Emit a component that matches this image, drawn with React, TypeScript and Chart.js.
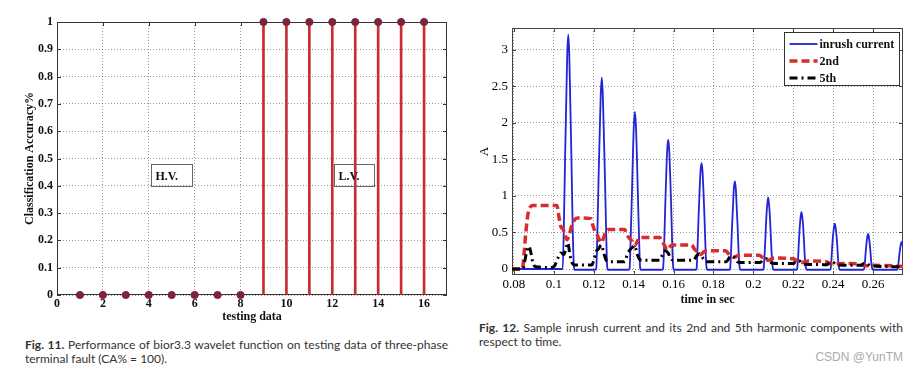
import { useEffect, useRef } from "react";
import { Chart, registerables } from "chart.js";

Chart.register(...registerables);

// ---------------- Fig. 11 data ----------------
const testingData = [1, 2, 3, 4, 5, 6, 7, 8, 9, 10, 11, 12, 13, 14, 15, 16];
const classificationAccuracy = [0, 0, 0, 0, 0, 0, 0, 0, 1, 1, 1, 1, 1, 1, 1, 1];
const fig11XTicks = [0, 2, 4, 6, 8, 10, 12, 14, 16];
const fig11YTicks = [0, 0.1, 0.2, 0.3, 0.4, 0.5, 0.6, 0.7, 0.8, 0.9, 1];
const fig11RegionLabels = ["H.V.", "L.V."];

// ---------------- Fig. 12 data ----------------
const timeTicks = [0.08, 0.1, 0.12, 0.14, 0.16, 0.18, 0.2, 0.22, 0.24, 0.26];
const ampTicks = [0, 0.5, 1, 1.5, 2, 2.5, 3];
const seriesNames = ["inrush current", "2nd", "5th"];

const inrushCurrent: [number, number][] = [
  [0.079, 0], [0.1044, 0],
  [0.105, 0.6], [0.1056, 1.5], [0.1062, 2.3], [0.1067, 2.95], [0.1072, 3.21], [0.1077, 2.95], [0.1082, 2.3], [0.1088, 1.5], [0.1094, 0.6], [0.11, 0.05], [0.1104, -0.01],
  [0.1208, -0.01], [0.1212, 0],
  [0.1218, 0.5], [0.1224, 1.25], [0.123, 1.9], [0.1235, 2.4], [0.124, 2.62], [0.1245, 2.4], [0.125, 1.9], [0.1256, 1.25], [0.1262, 0.5], [0.1267, 0.04], [0.1271, -0.01],
  [0.1375, -0.01], [0.1379, 0],
  [0.1385, 0.42], [0.1391, 1.02], [0.1396, 1.55], [0.1401, 1.98], [0.1406, 2.15], [0.1411, 1.98], [0.1416, 1.55], [0.1421, 1.02], [0.1427, 0.42], [0.1432, 0.03], [0.1436, -0.01],
  [0.1543, -0.01], [0.1547, 0],
  [0.1553, 0.35], [0.1558, 0.85], [0.1563, 1.28], [0.1568, 1.63], [0.1573, 1.77], [0.1578, 1.63], [0.1583, 1.28], [0.1588, 0.85], [0.1593, 0.35], [0.1598, 0.03], [0.1602, -0.01],
  [0.1711, -0.01], [0.1715, 0],
  [0.172, 0.28], [0.1725, 0.7], [0.173, 1.05], [0.1735, 1.34], [0.174, 1.45], [0.1745, 1.34], [0.175, 1.05], [0.1755, 0.7], [0.176, 0.28], [0.1765, 0.02], [0.1769, -0.01],
  [0.1879, -0.01], [0.1883, 0],
  [0.1888, 0.23], [0.1893, 0.58], [0.1898, 0.87], [0.1902, 1.1], [0.1907, 1.2], [0.1912, 1.1], [0.1916, 0.87], [0.1921, 0.58], [0.1926, 0.23], [0.1931, 0.02], [0.1935, -0.01],
  [0.2047, -0.01], [0.2051, 0],
  [0.2056, 0.19], [0.2061, 0.47], [0.2065, 0.71], [0.207, 0.9], [0.2074, 0.98], [0.2078, 0.9], [0.2083, 0.71], [0.2087, 0.47], [0.2092, 0.19], [0.2097, 0.02], [0.2101, -0.01],
  [0.2215, -0.01], [0.2219, 0],
  [0.2224, 0.15], [0.2228, 0.37], [0.2232, 0.56], [0.2237, 0.72], [0.2241, 0.78], [0.2245, 0.72], [0.225, 0.56], [0.2254, 0.37], [0.2258, 0.15], [0.2263, 0.02], [0.2267, -0.01],
  [0.2383, -0.01], [0.2387, 0],
  [0.2391, 0.12], [0.2395, 0.3], [0.2399, 0.45], [0.2404, 0.57], [0.2408, 0.62], [0.2412, 0.57], [0.2417, 0.45], [0.2421, 0.3], [0.2425, 0.12], [0.2429, 0.02], [0.2433, -0.01],
  [0.2551, -0.01], [0.2555, 0],
  [0.2559, 0.09], [0.2563, 0.23], [0.2567, 0.35], [0.2571, 0.44], [0.2575, 0.48], [0.2579, 0.44], [0.2583, 0.35], [0.2587, 0.23], [0.2591, 0.09], [0.2595, 0.01], [0.2599, -0.01],
  [0.2719, -0.01], [0.2723, 0],
  [0.2727, 0.07], [0.2731, 0.18], [0.2735, 0.27], [0.2739, 0.34], [0.2743, 0.37], [0.2747, 0.34], [0.2751, 0.27],
];

const secondHarmonic: [number, number][] = [
  [0.079, 0], [0.0842, 0], [0.085, 0.2], [0.086, 0.52], [0.087, 0.75], [0.0882, 0.85], [0.0895, 0.87],
  [0.1015, 0.87], [0.1025, 0.72], [0.1035, 0.58], [0.1045, 0.55], [0.1055, 0.48], [0.1065, 0.4], [0.1075, 0.45], [0.109, 0.6], [0.1105, 0.68], [0.112, 0.7],
  [0.1185, 0.69], [0.1195, 0.6], [0.1205, 0.52], [0.1215, 0.48], [0.1228, 0.4], [0.1238, 0.36], [0.1248, 0.42], [0.1262, 0.52], [0.1275, 0.54],
  [0.1355, 0.54], [0.1365, 0.48], [0.1378, 0.42], [0.1392, 0.38], [0.1405, 0.32], [0.1415, 0.36], [0.143, 0.43],
  [0.153, 0.43], [0.1542, 0.38], [0.1555, 0.32], [0.1568, 0.26], [0.158, 0.3], [0.1595, 0.33],
  [0.169, 0.33], [0.1703, 0.28], [0.1718, 0.24], [0.1735, 0.2], [0.175, 0.23], [0.1765, 0.25],
  [0.186, 0.25], [0.1875, 0.21], [0.1892, 0.17], [0.1905, 0.16], [0.1918, 0.18], [0.1935, 0.19],
  [0.203, 0.19], [0.2045, 0.16], [0.206, 0.13], [0.2075, 0.12], [0.209, 0.14], [0.2105, 0.15],
  [0.22, 0.14], [0.2215, 0.12], [0.223, 0.1], [0.2245, 0.09], [0.226, 0.1], [0.2275, 0.11],
  [0.2365, 0.1], [0.238, 0.08], [0.2395, 0.07], [0.241, 0.065], [0.2425, 0.07], [0.2445, 0.075],
  [0.253, 0.07], [0.2545, 0.055], [0.2565, 0.045], [0.258, 0.045], [0.26, 0.05],
  [0.27, 0.045], [0.275, 0.035],
];

const fifthHarmonic: [number, number][] = [
  [0.079, 0], [0.0845, 0], [0.0855, 0.12], [0.0865, 0.26], [0.0875, 0.31], [0.0885, 0.22], [0.0895, 0.08], [0.091, 0.03],
  [0.099, 0.02], [0.1005, 0.05], [0.102, 0.15], [0.1035, 0.22], [0.105, 0.2], [0.1062, 0.3], [0.107, 0.36], [0.108, 0.2], [0.1092, 0.08], [0.1105, 0.055],
  [0.119, 0.055], [0.12, 0.12], [0.1212, 0.24], [0.1225, 0.28], [0.1238, 0.33], [0.125, 0.22], [0.1262, 0.12], [0.1275, 0.1],
  [0.1355, 0.1], [0.1368, 0.2], [0.138, 0.26], [0.1395, 0.3], [0.1405, 0.32], [0.1418, 0.2], [0.143, 0.13], [0.1445, 0.12],
  [0.153, 0.12], [0.1545, 0.2], [0.156, 0.25], [0.1572, 0.22], [0.1585, 0.15], [0.1598, 0.12],
  [0.17, 0.12], [0.1715, 0.18], [0.173, 0.21], [0.1742, 0.17], [0.1755, 0.12], [0.177, 0.1],
  [0.1865, 0.1], [0.188, 0.16], [0.1895, 0.18], [0.1908, 0.15], [0.192, 0.1], [0.1935, 0.09],
  [0.2035, 0.09], [0.205, 0.13], [0.2065, 0.14], [0.208, 0.11], [0.2095, 0.08],
  [0.22, 0.075], [0.2215, 0.11], [0.223, 0.11], [0.2245, 0.08], [0.226, 0.065],
  [0.237, 0.06], [0.2385, 0.09], [0.24, 0.09], [0.2415, 0.06], [0.243, 0.055],
  [0.254, 0.05], [0.2555, 0.075], [0.257, 0.07], [0.2585, 0.045], [0.26, 0.04],
  [0.275, 0.03],
];

// ---------------- helpers & plugins ----------------
const SERIF = "'Liberation Serif', 'Times New Roman', serif";
const fmt = (v: number) => String(parseFloat(Number(v).toFixed(3)));

const axesBox = {
  id: "axesBox",
  beforeDatasetsDraw(chart: any, _a: any, opts: any) {
    const { ctx, chartArea } = chart;
    const { left, right, top, bottom } = chartArea;
    const xs = chart.scales.x;
    const ys = chart.scales.y;
    const tl = opts.tickLength ?? 4;
    ctx.save();
    ctx.strokeStyle = opts.color || "#333";
    ctx.lineWidth = 1;
    ctx.setLineDash([]);
    ctx.strokeRect(Math.round(left) + 0.5, Math.round(top) + 0.5, Math.round(right - left) - 1, Math.round(bottom - top) - 1);
    ctx.beginPath();
    for (const t of xs.ticks) {
      const x = Math.round(xs.getPixelForValue(t.value)) + 0.5;
      ctx.moveTo(x, bottom);
      ctx.lineTo(x, bottom - tl);
      ctx.moveTo(x, top);
      ctx.lineTo(x, top + tl);
    }
    for (const t of ys.ticks) {
      const y = Math.round(ys.getPixelForValue(t.value)) + 0.5;
      ctx.moveTo(left, y);
      ctx.lineTo(left + tl, y);
      ctx.moveTo(right, y);
      ctx.lineTo(right - tl, y);
    }
    ctx.stroke();
    ctx.restore();
  },
};

const regionBoxes = {
  id: "regionBoxes",
  afterDatasetsDraw(chart: any, _a: any, opts: any) {
    const { ctx } = chart;
    const xs = chart.scales.x;
    const ys = chart.scales.y;
    ctx.save();
    for (const b of opts.items || []) {
      const x0 = Math.round(xs.getPixelForValue(b.x0)) + 0.5;
      const x1 = Math.round(xs.getPixelForValue(b.x1)) + 0.5;
      const yTop = Math.round(ys.getPixelForValue(b.y1)) + 0.5;
      const yBot = Math.round(ys.getPixelForValue(b.y0)) + 0.5;
      ctx.strokeStyle = "#666";
      ctx.lineWidth = 1;
      ctx.strokeRect(x0, yTop, x1 - x0, yBot - yTop);
      ctx.font = `bold 12px ${SERIF}`;
      ctx.fillStyle = "#111";
      ctx.textAlign = "left";
      ctx.textBaseline = "middle";
      ctx.fillText(b.label, x0 + 4, (yTop + yBot) / 2 + 1);
    }
    ctx.restore();
  },
};

const insideLegend = {
  id: "insideLegend",
  afterDraw(chart: any, _a: any, opts: any) {
    const { ctx, chartArea } = chart;
    const w = opts.width;
    const h = opts.height;
    const x = Math.round(chartArea.right - opts.marginRight - w) + 0.5;
    const y = Math.round(chartArea.top + opts.marginTop) + 0.5;
    ctx.save();
    ctx.fillStyle = "#fff";
    ctx.fillRect(x, y, w, h);
    ctx.strokeStyle = "#333";
    ctx.lineWidth = 1;
    ctx.setLineDash([]);
    ctx.strokeRect(x, y, w, h);
    chart.data.datasets.forEach((ds: any, i: number) => {
      const cy = Math.round(y + opts.firstRow + i * opts.rowGap);
      ctx.beginPath();
      ctx.setLineDash(ds.borderDash || []);
      ctx.lineWidth = ds.borderWidth;
      ctx.strokeStyle = ds.borderColor;
      ctx.moveTo(x + 5, cy);
      ctx.lineTo(x + 33, cy);
      ctx.stroke();
      ctx.setLineDash([]);
      ctx.font = opts.font;
      ctx.fillStyle = "#111";
      ctx.textAlign = "left";
      ctx.textBaseline = "middle";
      ctx.fillText(ds.label, x + 35, cy + 1);
    });
    ctx.restore();
  },
};

const gridStyle = {
  color: "rgba(0,0,0,0.4)",
  lineWidth: 1,
  drawTicks: false,
};
const borderStyle = { display: false, dash: [1, 2] };

// ---------------- Fig. 11 ----------------
function Fig11() {
  const ref = useRef<HTMLCanvasElement>(null);
  useEffect(() => {
    const points = testingData.map((x, i) => ({ x, y: classificationAccuracy[i] }));
    const chart = new Chart(ref.current as HTMLCanvasElement, {
      type: "bar",
      data: {
        datasets: [
          {
            type: "line",
            label: "markers",
            data: points,
            showLine: false,
            pointRadius: 3.6,
            pointBackgroundColor: "rgb(125,35,60)",
            pointBorderColor: "rgb(125,35,60)",
            pointBorderWidth: 1,
            clip: false,
          } as any,
          {
            type: "bar",
            label: "stems",
            data: points,
            backgroundColor: "rgb(200,45,55)",
            barThickness: 2,
            borderWidth: 0,
          } as any,
        ],
      },
      options: {
        responsive: false,
        animation: false,
        layout: { padding: { left: 19, right: 13, top: 22, bottom: 0 } },
        plugins: {
          legend: { display: false },
          tooltip: { enabled: false },
          axesBox: { color: "#333", tickLength: 4 },
          regionBoxes: {
            items: [
              { label: fig11RegionLabels[0], x0: 4.1, x1: 5.9, y0: 0.4, y1: 0.48 },
              { label: fig11RegionLabels[1], x0: 12.06, x1: 13.8, y0: 0.4, y1: 0.48 },
            ],
          },
        } as any,
        scales: {
          x: {
            type: "linear",
            min: 0,
            max: 17,
            offset: false,
            afterBuildTicks: (s: any) => {
              s.ticks = fig11XTicks.map((v) => ({ value: v }));
            },
            afterFit: (s: any) => {
              s.height = 35;
            },
            ticks: {
              autoSkip: false,
              maxRotation: 0,
              padding: 2,
              color: "#111",
              font: { family: SERIF, size: 12, weight: "bold" },
              callback: (v: any) => fmt(v),
            },
            grid: { ...gridStyle, offset: false },
            border: borderStyle,
            title: {
              display: true,
              text: "testing data",
              color: "#111",
              font: { family: SERIF, size: 12, weight: "bold" },
              padding: { top: 0, bottom: 6 },
            },
          },
          y: {
            type: "linear",
            min: 0,
            max: 1,
            afterBuildTicks: (s: any) => {
              s.ticks = fig11YTicks.map((v) => ({ value: v }));
            },
            afterFit: (s: any) => {
              s.width = 38;
            },
            ticks: {
              padding: 4,
              color: "#111",
              font: { family: SERIF, size: 12, weight: "bold" },
              callback: (v: any) => fmt(v),
            },
            grid: gridStyle,
            border: borderStyle,
            title: {
              display: true,
              text: "Classification Accuracy%",
              color: "#111",
              font: { family: SERIF, size: 12, weight: "bold" },
              padding: { top: 4, bottom: 0 },
            },
          },
        } as any,
      },
      plugins: [axesBox, regionBoxes],
    });
    return () => chart.destroy();
  }, []);
  return (
    <canvas
      ref={ref}
      width={460}
      height={330}
      style={{ position: "absolute", left: 0, top: 0, width: 460, height: 330 }}
    />
  );
}

// ---------------- Fig. 12 ----------------
function Fig12() {
  const ref = useRef<HTMLCanvasElement>(null);
  useEffect(() => {
    const toXY = (arr: [number, number][]) => arr.map(([x, y]) => ({ x, y }));
    const chart = new Chart(ref.current as HTMLCanvasElement, {
      type: "line",
      data: {
        datasets: [
          {
            label: seriesNames[0],
            data: toXY(inrushCurrent),
            borderColor: "rgb(35,35,215)",
            borderWidth: 1.8,
            pointRadius: 0,
            cubicInterpolationMode: "monotone",
            order: 3,
          },
          {
            label: seriesNames[1],
            data: toXY(secondHarmonic),
            borderColor: "rgb(215,45,45)",
            borderWidth: 3.5,
            borderDash: [8, 4],
            pointRadius: 0,
            cubicInterpolationMode: "monotone",
            order: 2,
          },
          {
            label: seriesNames[2],
            data: toXY(fifthHarmonic),
            borderColor: "#000",
            borderWidth: 3,
            borderDash: [8, 4, 2, 4],
            pointRadius: 0,
            cubicInterpolationMode: "monotone",
            order: 1,
          },
        ] as any,
      },
      options: {
        responsive: false,
        animation: false,
        layout: { padding: { left: 13, right: 15, top: 28, bottom: 0 } },
        plugins: {
          legend: { display: false },
          tooltip: { enabled: false },
          axesBox: { color: "#444", tickLength: 4 },
          insideLegend: {
            width: 115,
            height: 53,
            marginRight: 4,
            marginTop: 4,
            firstRow: 11,
            rowGap: 17,
            font: `bold 12px ${SERIF}`,
          },
        } as any,
        scales: {
          x: {
            type: "linear",
            min: 0.079,
            max: 0.275,
            afterBuildTicks: (s: any) => {
              s.ticks = timeTicks.map((v) => ({ value: v }));
            },
            afterFit: (s: any) => {
              s.height = 40;
            },
            ticks: {
              autoSkip: false,
              maxRotation: 0,
              padding: 2,
              color: "#000",
              font: { family: SERIF, size: 13 },
              callback: (v: any) => fmt(v),
            },
            grid: gridStyle,
            border: borderStyle,
            title: {
              display: true,
              text: "time in sec",
              color: "#111",
              font: { family: SERIF, size: 12, weight: "bold" },
              padding: { top: 0, bottom: 8 },
            },
          },
          y: {
            type: "linear",
            min: -0.082,
            max: 3.3,
            afterBuildTicks: (s: any) => {
              s.ticks = ampTicks.map((v) => ({ value: v }));
            },
            afterFit: (s: any) => {
              s.width = 39;
            },
            ticks: {
              padding: 4,
              color: "#000",
              font: { family: SERIF, size: 13 },
              callback: (v: any) => fmt(v),
            },
            grid: gridStyle,
            border: borderStyle,
            title: {
              display: true,
              text: "A",
              color: "#111",
              font: { family: SERIF, size: 13 },
              padding: { top: 4, bottom: 0 },
            },
          },
        } as any,
      },
      plugins: [axesBox, insideLegend],
    });
    return () => chart.destroy();
  }, []);
  return (
    <canvas
      ref={ref}
      width={458}
      height={315}
      style={{ position: "absolute", left: 460, top: 0, width: 458, height: 315 }}
    />
  );
}

const captionBase: any = {
  position: "absolute",
  fontFamily: "Lato, 'Noto Sans', sans-serif",
  fontSize: 12,
  lineHeight: "14px",
  color: "#333",
};

export default function App() {
  return (
    <div style={{ position: "absolute", left: 0, top: 0, width: 918, height: 371, background: "#fff", overflow: "hidden" }}>
      <Fig11 />
      <Fig12 />
      <div style={{ ...captionBase, left: 25, top: 338, width: 423, textAlign: "justify", textAlignLast: "justify" }}>
        <b>Fig. 11.</b> Performance of bior3.3 wavelet function on testing data of three-phase
      </div>
      <div style={{ ...captionBase, left: 25, top: 352, whiteSpace: "nowrap" }}>terminal fault (CA% = 100).</div>
      <div style={{ ...captionBase, left: 479, top: 321, width: 424, textAlign: "justify", textAlignLast: "justify" }}>
        <b>Fig. 12.</b> Sample inrush current and its 2nd and 5th harmonic components with
      </div>
      <div style={{ ...captionBase, left: 479, top: 335, whiteSpace: "nowrap" }}>respect to time.</div>
      <div
        style={{
          position: "absolute",
          right: 15,
          top: 350,
          fontFamily: "'Liberation Sans', Arial, sans-serif",
          fontSize: 12,
          lineHeight: "14px",
          color: "#aaa",
          whiteSpace: "nowrap",
        }}
      >
        CSDN @YunTM
      </div>
    </div>
  );
}
